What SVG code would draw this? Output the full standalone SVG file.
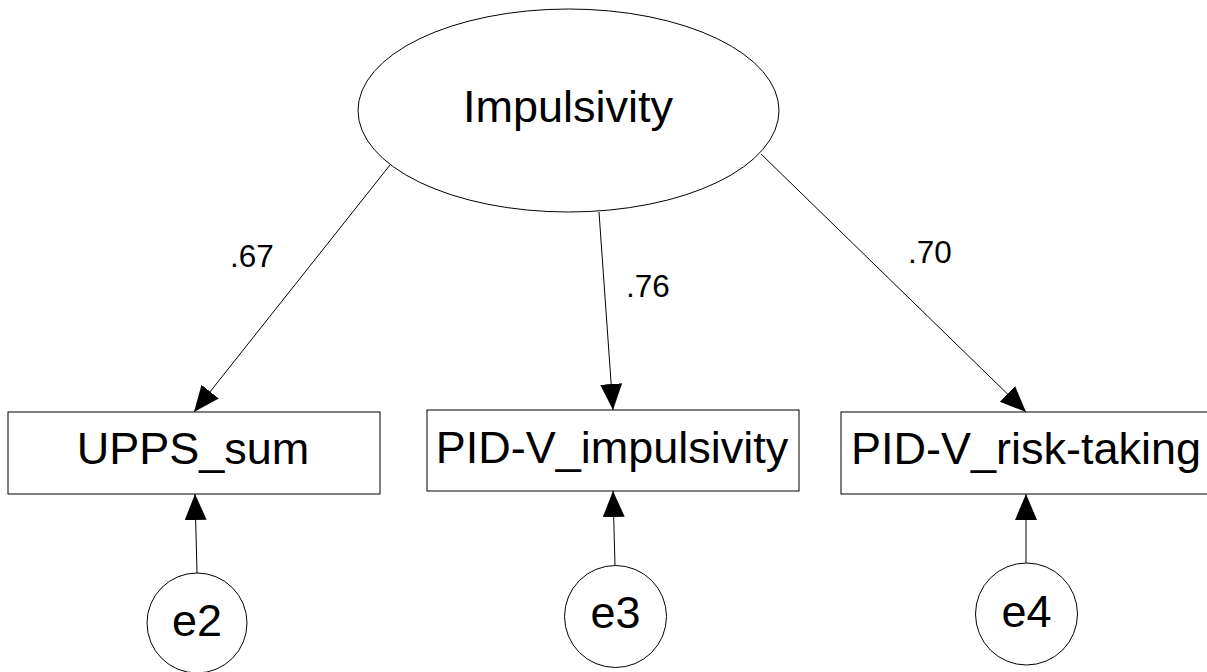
<svg xmlns="http://www.w3.org/2000/svg" width="1207" height="672" viewBox="0 0 1207 672">
<style>
.shape{fill:#fff;stroke:#000;stroke-width:1}
.conn{stroke:#000;stroke-width:1;fill:none;marker-end:url(#arr)}
.lbl{font-family:"Liberation Sans",Arial,sans-serif;font-size:45px;fill:#000;text-anchor:middle}
.w{font-family:"Liberation Sans",Arial,sans-serif;font-size:31.5px;fill:#000;text-anchor:middle}
</style>
<defs>
<marker id="arr" markerUnits="userSpaceOnUse" markerWidth="26" markerHeight="22" viewBox="0 0 26 22" refX="26" refY="11" orient="auto">
<path d="M0,0 L26,11 L0,22 Z" fill="#000"/>
</marker>
</defs>
<rect width="1207" height="672" fill="#fff"/>
<g id="connectors">
<line class="conn" x1="390" y1="165" x2="194" y2="412"/>
<line class="conn" x1="599" y1="212" x2="613" y2="410"/>
<line class="conn" x1="761" y1="154" x2="1026" y2="412"/>
<line class="conn" x1="197" y1="573" x2="195" y2="494"/>
<line class="conn" x1="615" y1="566" x2="613" y2="491"/>
<line class="conn" x1="1026" y1="563" x2="1026" y2="494"/>
</g>
<g id="weights">
<text class="w" x="252" y="267">.67</text>
<text class="w" x="648" y="297">.76</text>
<text class="w" x="930" y="263">.70</text>
</g>
<g id="impulsivity">
<ellipse class="shape" cx="568.5" cy="110.5" rx="210.5" ry="101.5"/>
<text class="lbl" x="568" y="122">Impulsivity</text>
</g>
<g id="upps_sum">
<rect class="shape" x="8" y="412" width="372" height="82"/>
<text class="lbl" x="193" y="464">UPPS_sum</text>
</g>
<g id="pidv_impulsivity">
<rect class="shape" x="427" y="410" width="372" height="81"/>
<text class="lbl" x="612" y="463">PID-V_impulsivity</text>
</g>
<g id="pidv_risk">
<rect class="shape" x="841" y="412" width="372" height="82"/>
<text class="lbl" x="1026" y="464">PID-V_risk-taking</text>
</g>
<g id="e2">
<circle class="shape" cx="197" cy="623" r="50"/>
<text class="lbl" x="197" y="636">e2</text>
</g>
<g id="e3">
<circle class="shape" cx="615.5" cy="616.5" r="51"/>
<text class="lbl" x="615.5" y="628">e3</text>
</g>
<g id="e4">
<circle class="shape" cx="1026.5" cy="614" r="51"/>
<text class="lbl" x="1026.5" y="627">e4</text>
</g>
</svg>
